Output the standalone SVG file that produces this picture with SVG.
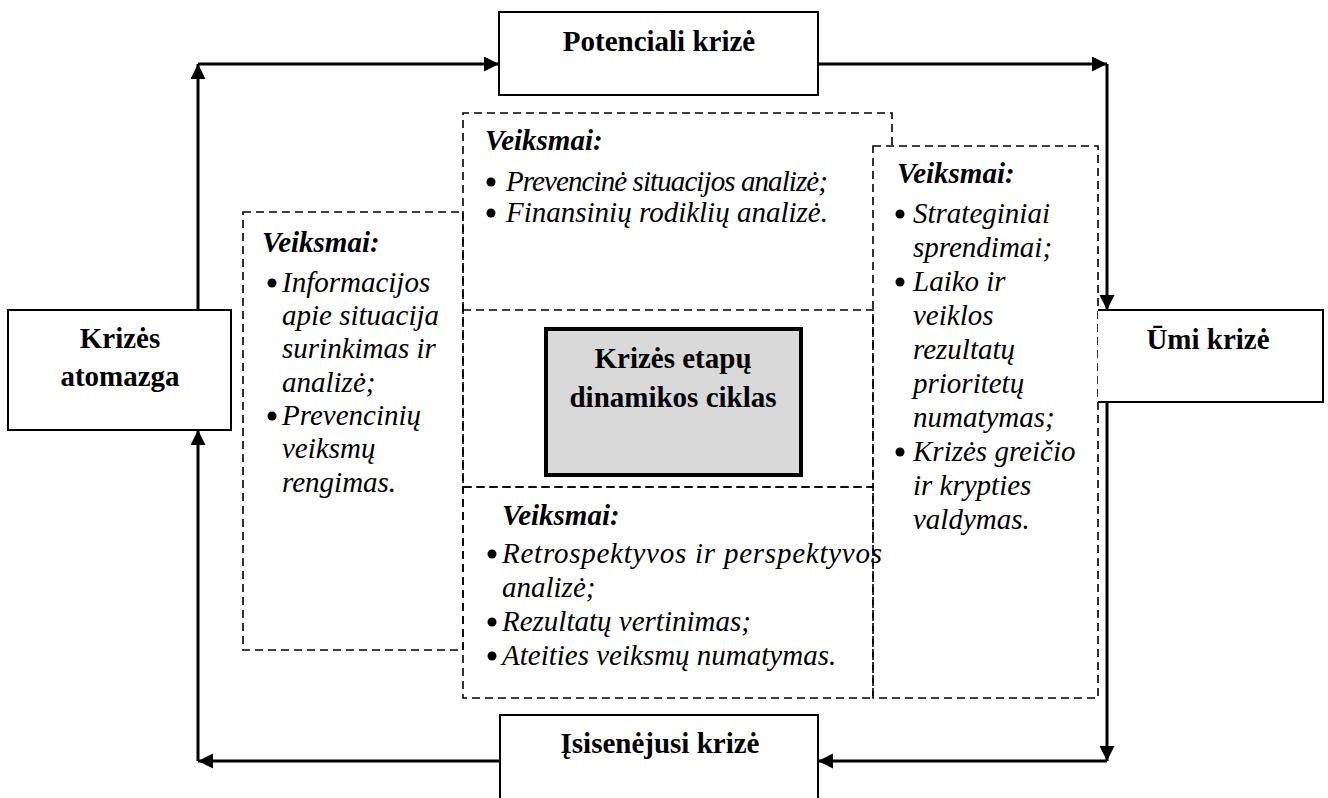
<svg xmlns="http://www.w3.org/2000/svg" width="1328" height="798" viewBox="0 0 1328 798" font-family="'Liberation Serif', 'DejaVu Serif', serif">
  <style>
    text { font-family: 'Liberation Serif', 'DejaVu Serif', serif; font-size: 29px; fill: #000; }
    .title { font-weight: bold; text-anchor: middle; }
    .head { font-weight: bold; font-style: italic; }
    .item { font-style: italic; }
    .stage { fill: #fff; stroke: #000; stroke-width: 2; }
    .zone { fill: none; stroke: #000; stroke-width: 1.6; stroke-dasharray: 8 5; }
    .link { fill: none; stroke: #000; stroke-width: 3; marker-end: url(#arrow); }
    .dot { fill: #000; }
  </style>
  <defs>
    <marker id="arrow" markerUnits="userSpaceOnUse" markerWidth="16" markerHeight="16" refX="15" refY="7.5" orient="auto">
      <path d="M0,0 L15,7.5 L0,15 Z" fill="#000"/>
    </marker>
  </defs>
  <rect width="1328" height="798" fill="#fff"/>

  <!-- connectors of the cycle -->
  <g id="connectors">
    <path class="link" d="M198,310 V64"/>
    <path class="link" d="M198,64 H499"/>
    <path class="link" d="M818,64 H1107"/>
    <path class="link" d="M1107,64 V310"/>
    <path class="link" d="M1107,402 V761"/>
    <path class="link" d="M1107,761 H818"/>
    <path class="link" d="M499,761 H198"/>
    <path class="link" d="M198,761 V430"/>
  </g>

  <!-- dashed action areas -->
  <g id="actions-left">
    <rect class="zone" x="243" y="212" width="220" height="438"/>
    <text class="head" x="262" y="252">Veiksmai:</text>
    <circle class="dot" cx="272" cy="283" r="4.5"/>
    <circle class="dot" cx="272" cy="416" r="4.5"/>
    <text class="item">
      <tspan x="282" y="292">Informacijos</tspan>
      <tspan x="282" y="325">apie situacija</tspan>
      <tspan x="282" y="358">surinkimas ir</tspan>
      <tspan x="282" y="392">analizė;</tspan>
      <tspan x="282" y="425">Prevencinių</tspan>
      <tspan x="282" y="458">veiksmų</tspan>
      <tspan x="282" y="492">rengimas.</tspan>
    </text>
  </g>

  <g id="actions-top">
    <path class="zone" d="M463,310 V113 H892 V146"/>
    <text class="head" x="485" y="150">Veiksmai:</text>
    <circle class="dot" cx="491" cy="182" r="4.5"/>
    <circle class="dot" cx="491" cy="213" r="4.5"/>
    <text class="item" x="506" y="191" textLength="322">Prevencinė situacijos analizė;</text>
    <text class="item" x="506" y="222">Finansinių rodiklių analizė.</text>
  </g>

  <g id="actions-right">
    <rect class="zone" x="873" y="146" width="225" height="552"/>
    <text class="head" x="897" y="183">Veiksmai:</text>
    <circle class="dot" cx="900" cy="214" r="4.5"/>
    <circle class="dot" cx="900" cy="282" r="4.5"/>
    <circle class="dot" cx="900" cy="452" r="4.5"/>
    <text class="item">
      <tspan x="913" y="223">Strateginiai</tspan>
      <tspan x="913" y="257">sprendimai;</tspan>
      <tspan x="913" y="291">Laiko ir</tspan>
      <tspan x="913" y="325">veiklos</tspan>
      <tspan x="913" y="359">rezultatų</tspan>
      <tspan x="913" y="393">prioritetų</tspan>
      <tspan x="913" y="427">numatymas;</tspan>
      <tspan x="913" y="461">Krizės greičio</tspan>
      <tspan x="913" y="495">ir krypties</tspan>
      <tspan x="913" y="529">valdymas.</tspan>
    </text>
  </g>

  <g id="actions-bottom">
    <rect class="zone" x="463" y="487" width="410" height="211"/>
    <text class="head" x="502" y="525">Veiksmai:</text>
    <circle class="dot" cx="492" cy="554" r="4.5"/>
    <circle class="dot" cx="492" cy="622" r="4.5"/>
    <circle class="dot" cx="492" cy="656" r="4.5"/>
    <text class="item" x="502" y="563" textLength="380">Retrospektyvos ir perspektyvos</text>
    <text class="item">
      <tspan x="502" y="597">analizė;</tspan>
      <tspan x="502" y="631">Rezultatų vertinimas;</tspan>
      <tspan x="502" y="665">Ateities veiksmų numatymas.</tspan>
    </text>
  </g>

  <!-- central cycle title -->
  <g id="cycle-center">
    <rect class="zone" x="463" y="310" width="410" height="177"/>
    <rect x="546" y="329" width="255" height="146" fill="#d9d9d9" stroke="#000" stroke-width="4"/>
    <text class="title" x="673" y="368">Krizės etapų</text>
    <text class="title" x="673" y="407">dinamikos ciklas</text>
  </g>

  <!-- crisis stages -->
  <g id="stage-potential">
    <rect class="stage" x="499" y="12" width="319" height="83"/>
    <text class="title" x="659" y="51">Potenciali krizė</text>
  </g>

  <g id="stage-acute">
    <path class="stage" d="M1098,310 H1323 V402 H1098"/>
    <text class="title" x="1208" y="349">Ūmi krizė</text>
  </g>

  <g id="stage-chronic">
    <rect class="stage" x="500" y="715" width="318" height="95"/>
    <text class="title" x="660" y="753">Įsisenėjusi krizė</text>
  </g>

  <g id="stage-resolution">
    <rect class="stage" x="8" y="310" width="223" height="120"/>
    <text class="title" x="120" y="348">Krizės</text>
    <text class="title" x="120" y="386">atomazga</text>
  </g>
</svg>
